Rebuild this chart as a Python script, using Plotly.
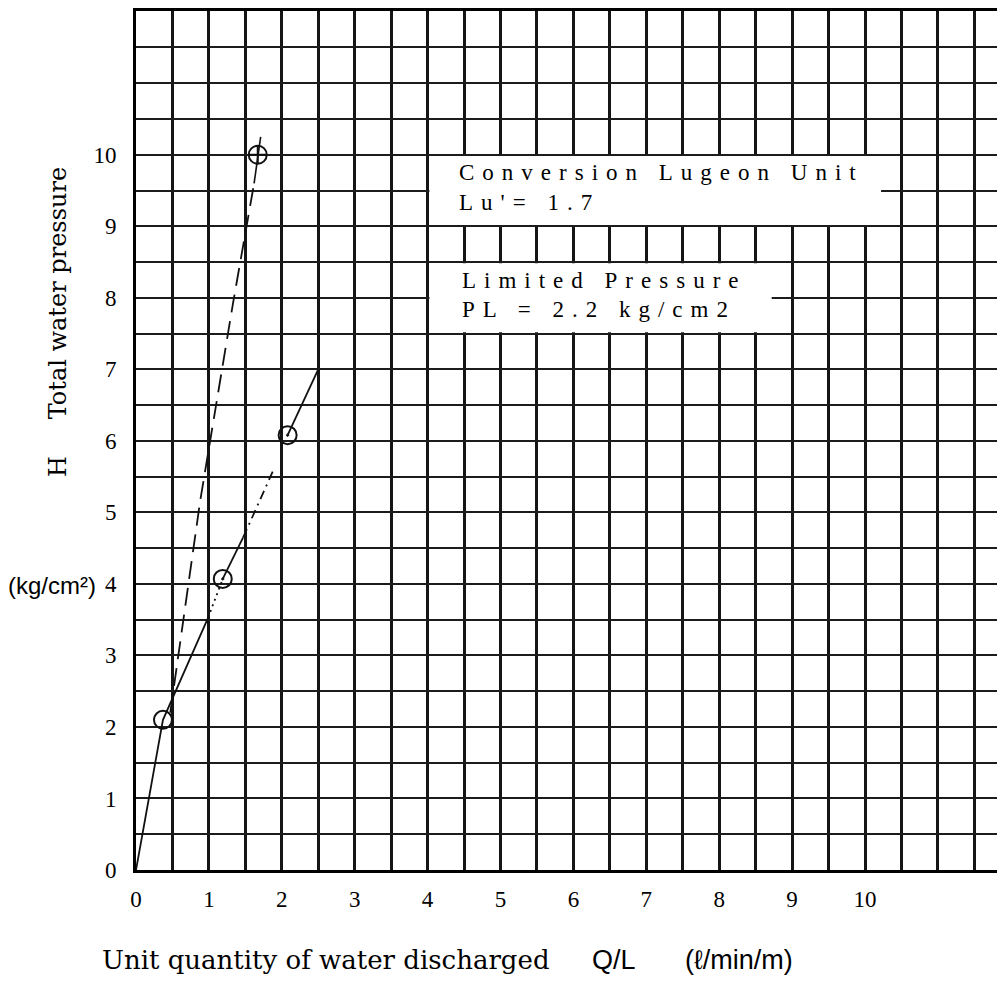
import numpy as np
import plotly.graph_objects as go

# ---------------- data ----------------
x_tick_labels = ["0", "1", "2", "3", "4", "5", "6", "7", "8", "9", "10"]
y_tick_labels = ["0", "1", "2", "3", "4", "5", "6", "7", "8", "9", "10"]

# measured test points (Q/L, H)
test_q = [0.37, 1.19, 2.08, 1.67]
test_h = [2.10, 4.07, 6.08, 10.00]

# pressure–discharge curve pieces
seg_a_q = [0.00, 0.37, 0.99]
seg_a_h = [0.00, 2.10, 3.53]
seg_b_q = [0.99, 1.19]
seg_b_h = [3.53, 4.07]
seg_c_q = [1.19, 1.47]
seg_c_h = [4.07, 4.65]
seg_d_q = [1.47, 1.88]
seg_d_h = [4.65, 5.58]
seg_e_q = [2.08, 2.50]
seg_e_h = [6.08, 7.00]

# conversion (Lugeon) line
lugeon_q = [0.47, 0.88, 1.33, 1.62]
lugeon_h = [2.20, 5.16, 7.92, 9.60]
peak_q = [1.62, 1.71]
peak_h = [9.60, 10.25]

# ---------------- figure ----------------
OFF = 8                     # default page margin of the html body
FW, FH = 997, 976
ML, MR, MT, MB = 128, 0, 1, 114
PW, PH = FW - ML - MR, FH - MT - MB
PX_PER_X = 72.9
X_MAX = PW / PX_PER_X
Y_MAX = 12.01


def px_x(p):
    return (p - OFF - ML) / PW


def px_y(p):
    return (FH - MB - (p - OFF)) / PH


fig = go.Figure()
LINE_C = "#111111"


def seg(q, h, dash, width=1.8):
    fig.add_trace(go.Scatter(x=q, y=h, mode="lines",
                             line=dict(color=LINE_C, width=width, dash=dash),
                             hoverinfo="skip", showlegend=False))


seg(seg_a_q, seg_a_h, "solid")
seg(seg_b_q, seg_b_h, "2px,4px")
seg(seg_c_q, seg_c_h, "solid")
seg(seg_d_q, seg_d_h, "9px,5px,2px,5px")
seg(seg_e_q, seg_e_h, "solid")
seg(lugeon_q, lugeon_h, "18px,9px")
seg(peak_q, peak_h, "solid", 1.6)

fig.add_trace(go.Scatter(
    x=test_q, y=test_h, mode="markers",
    marker=dict(symbol=["circle-open", "circle-open-dot", "circle-open-dot", "circle-cross-open"],
                size=18, color=LINE_C, line=dict(width=2, color=LINE_C)),
    hoverinfo="skip", showlegend=False))

x_vals = np.arange(0, X_MAX, 0.5)
x_text = [x_tick_labels[int(v)] if (v == int(v) and int(v) < len(x_tick_labels)) else "" for v in x_vals]
y_vals = np.arange(0, 12.001, 0.5)
y_text = [y_tick_labels[int(v)] if (v == int(v) and int(v) < len(y_tick_labels)) else "" for v in y_vals]

tick_font = dict(family="Liberation Serif", size=23, color="black")

fig.update_xaxes(range=[0, X_MAX], tickmode="array", tickvals=x_vals, ticktext=x_text,
                 showgrid=True, gridcolor="#151515", gridwidth=2.8, zeroline=False,
                 showline=True, linecolor="black", linewidth=3, mirror=True,
                 ticks="", tickfont=tick_font, ticklabelstandoff=6, fixedrange=True)
fig.update_yaxes(range=[0, Y_MAX], tickmode="array", tickvals=y_vals, ticktext=y_text,
                 showgrid=True, gridcolor="#1c1c1c", gridwidth=2.0, zeroline=False,
                 showline=True, linecolor="black", linewidth=3, mirror=False,
                 ticks="", tickfont=tick_font, ticklabelstandoff=12, fixedrange=True)

# white label panels (grid erased behind the text)
fig.add_shape(type="rect", xref="x", yref="y", x0=4.025, x1=10.22, y0=9.018, y1=9.982,
              fillcolor="white", line=dict(width=0), layer="between")
fig.add_shape(type="rect", xref="x", yref="y", x0=4.025, x1=8.72, y0=7.518, y1=8.482,
              fillcolor="white", line=dict(width=0), layer="between")

box_font = dict(family="Liberation Serif", size=23, color="black")
SP = '<span style="letter-spacing:8px">{}</span>'


def box_text(txt, x, y):
    fig.add_annotation(x=x, y=y, xref="x", yref="y", text=SP.format(txt), showarrow=False,
                       xanchor="left", yanchor="middle", font=box_font)


box_text("Conversion Lugeon Unit", 4.40, 9.75)
box_text("Lu'= 1.7", 4.40, 9.33)
box_text("Limited Pressure", 4.44, 8.24)
box_text("PL = 2.2 kg/cm2", 4.44, 7.83)

title_font = dict(family="DejaVu Serif", size=26, color="black")
sans_font = dict(family="Liberation Sans", size=24, color="black")
sans_font2 = dict(family="Liberation Sans", size=27, color="black")

fig.add_annotation(x=px_x(58), y=px_y(292), xref="paper", yref="paper", text="Total water pressure",
                   textangle=-90, showarrow=False, xanchor="center", yanchor="middle",
                   font=dict(family="DejaVu Serif", size=24, color="black"))
fig.add_annotation(x=px_x(58), y=px_y(466), xref="paper", yref="paper", text="H",
                   textangle=-90, showarrow=False, xanchor="center", yanchor="middle",
                   font=dict(family="DejaVu Serif", size=24, color="black"))
fig.add_annotation(x=px_x(6), y=px_y(585), xref="paper", yref="paper", text="(kg/cm²)",
                   showarrow=False, xanchor="left", yanchor="middle", font=sans_font)
fig.add_annotation(x=px_x(100), y=px_y(960), xref="paper", yref="paper",
                   text="Unit quantity of water discharged", showarrow=False,
                   xanchor="left", yanchor="middle", font=title_font)
fig.add_annotation(x=px_x(590), y=px_y(960), xref="paper", yref="paper", text="Q/L",
                   showarrow=False, xanchor="left", yanchor="middle", font=sans_font2)
fig.add_annotation(x=px_x(683), y=px_y(960), xref="paper", yref="paper", text="(ℓ/min/m)",
                   showarrow=False, xanchor="left", yanchor="middle", font=sans_font2)

fig.update_layout(width=FW, height=FH, autosize=False,
                  margin=dict(l=ML, r=MR, t=MT, b=MB, pad=0),
                  paper_bgcolor="white", plot_bgcolor="white", showlegend=False)

fig.write_html("out.html")
